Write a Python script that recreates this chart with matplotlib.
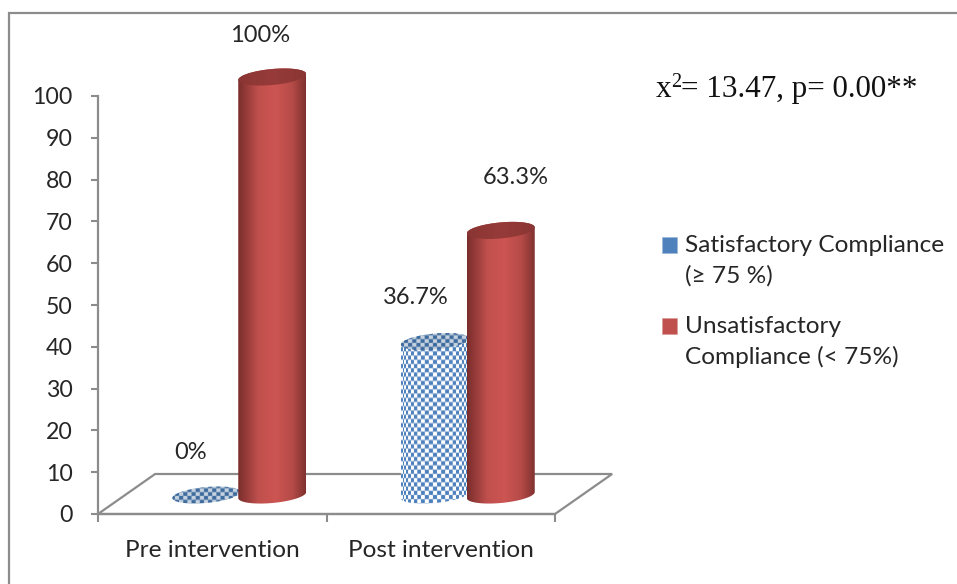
import numpy as np
import matplotlib
matplotlib.use("Agg")
import matplotlib.pyplot as plt
from matplotlib.colors import LinearSegmentedColormap
from matplotlib.patches import PathPatch, Patch, Polygon, Rectangle
from matplotlib.path import Path

categories = ["Pre intervention", "Post intervention"]
satisfactory = [0, 36.7]
unsatisfactory = [100, 63.3]
satisfactory_labels = ["0%", "36.7%"]
unsatisfactory_labels = ["100%", "63.3%"]
legend_labels = ["Satisfactory Compliance\n(≥ 75 %)", "Unsatisfactory\nCompliance (< 75%)"]
y_ticks = list(range(0, 101, 10))

W, H = 957, 584
GREY = "#8c8c8c"
TEXT = "#262626"
plt.rcParams["font.family"] = ["Lato", "DejaVu Sans"]

fig = plt.figure(figsize=(W / 100, H / 100), dpi=100)
ax = fig.add_axes([98 / W, 1 - 514 / H, (555 - 98) / W, (514 - 96) / H])

# outer frame
fig.add_artist(Rectangle((9 / W, -0.02), 1.1, 1 - 13 / H + 0.02, transform=fig.transFigure,
                         fill=False, ec=GREY, lw=1.6))

px_x = 2.0 / (555 - 98)   # data units per pixel
px_y = 100 / (514 - 96)
base = 19 * px_y          # cylinders stand on the floor, not on the axis
half_h = 8 * px_y
tilt = 3 * px_y

red_map = LinearSegmentedColormap.from_list("red", [(0, "#7a2e2c"), (0.3, "#c0504d"),
                                                    (0.55, "#cd5552"), (0.8, "#b54b48"), (1, "#813230")])
red_top = LinearSegmentedColormap.from_list("redtop", ["#8a3634", "#963b39", "#8a3634"])
blue_map = LinearSegmentedColormap.from_list("blue", ["#ffffff", "#4f81bd"])
blue_top = LinearSegmentedColormap.from_list("bluetop", ["#c6d2e0", "#3f6c9e"])


def rim(cx, cy, half_w, t):
    return np.column_stack([cx + half_w * np.cos(t), cy + half_h * np.sin(t) + tilt * np.cos(t)])


def clip_image(img, cmap, cx, half_w, y0, y1, outline, zorder):
    im = ax.imshow(img, cmap=cmap, vmin=0, vmax=1, origin="lower", aspect="auto",
                   extent=[cx - half_w, cx + half_w, y0, y1], interpolation="bilinear", zorder=zorder)
    im.set_clip_path(PathPatch(Path(np.vstack([outline, outline[:1]])), transform=ax.transData))
    im.set_clip_box(fig.bbox)   # the tallest cylinder pokes out above the axes


def checker(nx, ny, wrap):
    u = np.linspace(-1, 1, nx)
    x = (np.arcsin(u) * nx / 2) if wrap else u * nx / 2
    y = np.arange(ny)
    xx, yy = np.meshgrid(x, y)
    return np.clip(0.5 + 1.6 * np.cos(np.pi * xx / 4.2) * np.cos(np.pi * yy / 4.2), 0, 1)


def cylinder(cx, value, width, kind, zorder):
    half_w = width / 2
    top = base + value
    front = rim(cx, base, half_w, np.linspace(np.pi, 2 * np.pi, 60))
    back = rim(cx, top, half_w, np.linspace(0, np.pi, 60))
    cap = rim(cx, top, half_w, np.linspace(0, 2 * np.pi, 120))
    y0, y1 = base - half_h - tilt, top + half_h + tilt
    if kind == "red":
        body = np.linspace(0, 1, 140)[None, :]
        lid = np.linspace(0, 1, 140)[None, :]
        body_map, lid_map = red_map, red_top
    else:
        nx, ny = 68, max(int((y1 - y0) / px_y), 2)
        body = checker(nx, ny, True)
        lid = checker(nx, 24, False)
        body_map, lid_map = blue_map, blue_top
    if value > 0:
        clip_image(body, body_map, cx, half_w, y0, y1, np.vstack([front, back]), zorder)
    clip_image(lid, lid_map, cx, half_w, top - half_h - tilt, top + half_h + tilt, cap, zorder + 0.1)


# floor
ax.add_patch(Polygon([(-0.5, 0), (-0.25, 40 * px_y), (1.75, 40 * px_y), (1.5, 0)], closed=True,
                     fill=False, ec=GREY, lw=1.6, clip_on=False, zorder=1))

x = np.arange(len(categories))
bar_w = 68 * px_x
blue_x = x - 6 * px_x
red_x = x + 60 * px_x
for i in x:
    cylinder(blue_x[i], satisfactory[i], bar_w, "blue", 2 + 2 * i)
    cylinder(red_x[i], unsatisfactory[i], bar_w, "red", 3 + 2 * i)

# data labels, offsets in points from the top of each cylinder
blue_off = [(-11, 30.5), (-13.5, 32)]
red_off = [(-9, 30), (11, 38)]
for i in x:
    ax.annotate(satisfactory_labels[i], (blue_x[i], base + satisfactory[i]), xytext=blue_off[i],
                textcoords="offset points", ha="center", va="center", fontsize=17, color=TEXT,
                annotation_clip=False)
    ax.annotate(unsatisfactory_labels[i], (red_x[i], base + unsatisfactory[i]), xytext=red_off[i],
                textcoords="offset points", ha="center", va="center", fontsize=17, color=TEXT,
                annotation_clip=False)

ax.set_xlim(-0.5, 1.5)
ax.set_ylim(0, 100)
ax.set_yticks(y_ticks)
ax.set_xticks([-0.5, 0.5, 1.5])
ax.set_xticklabels([])
ax.set_xticks(x, categories, minor=True)
ax.tick_params(axis="x", which="major", length=6, width=1.5, color=GREY)
ax.tick_params(axis="x", which="minor", length=0, pad=19, labelsize=17.6, labelcolor=TEXT)
ax.tick_params(axis="y", length=5, width=1.5, color=GREY, pad=13, labelsize=16.7, labelcolor=TEXT)
for side in ["top", "right"]:
    ax.spines[side].set_visible(False)
for side in ["left", "bottom"]:
    ax.spines[side].set_color(GREY)
    ax.spines[side].set_linewidth(1.6)

# statistic in the top right corner
serif = dict(family="Liberation Serif", color="#111111", transform=fig.transFigure, va="baseline")
fig.text(656 / W, 1 - 97 / H, "x", fontsize=22.4, **serif)
fig.text(671 / W, 1 - 87 / H, "2", fontsize=14.5, **serif)
fig.text(681 / W, 1 - 97 / H, "= 13.47, p= 0.00**", fontsize=22.4, **serif)

handles = [Patch(fc="#4f81bd", ec="#9db8d8", lw=0.5), Patch(fc="#c0504d", ec="#dc9a98", lw=0.5)]
leg = fig.legend(handles, legend_labels, loc="upper left", bbox_to_anchor=(655 / W, 1 - 228 / H),
                 frameon=False, fontsize=17.6, labelcolor=TEXT, handlelength=0.62, handleheight=0.62,
                 handletextpad=0.29, labelspacing=1.2, borderpad=0.3, borderaxespad=0)
for t in leg.get_texts():
    t.set_linespacing(1.5)
# swatch sits next to the first line of its label, not in the middle
for h in leg.legend_handles:
    h.set_y(h.get_y() + 11.2)

fig.savefig("out.png", dpi=100, facecolor="white")
